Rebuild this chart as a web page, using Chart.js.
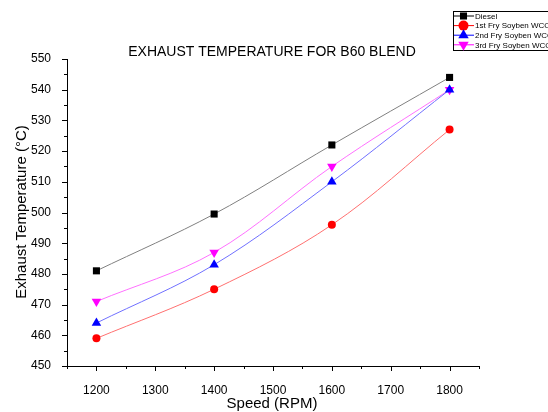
<!DOCTYPE html>
<html><head><meta charset="utf-8">
<script src="https://cdn.jsdelivr.net/npm/chart.js@4/dist/chart.umd.min.js"></script>
<style>html,body{margin:0;padding:0;background:#fff}#wrap{width:548px;height:412px}</style>
</head><body><div id="wrap"><canvas id="c" width="548" height="412"></canvas></div>
<script>
const speeds = [1200, 1400, 1600, 1800];
const diesel = [481, 499.5, 522, 544];
const fry1 = [459, 475, 496, 527];
const fry2 = [464, 483, 510, 540];
const fry3 = [471, 487, 515, 540];
const seriesNames = ['Diesel', '1st Fry Soyben WCO', '2nd Fry Soyben WCO', '3rd Fry Soyben WCO'];
const titleText = 'EXHAUST TEMPERATURE FOR B60 BLEND';
const xTitle = 'Speed (RPM)';
const yTitle = 'Exhaust Temperature (°C)';

const FONT = '"Liberation Sans", Arial, sans-serif';
function mk(name, vals, lineC, ptC, style, rot, r) {
  return {label: name, data: speeds.map((s,i)=>({x:s,y:vals[i]})), borderColor: lineC, borderWidth: 1,
    pointBackgroundColor: ptC, pointBorderColor: ptC, pointStyle: style, pointRotation: rot, pointRadius: r,
    pointBorderWidth: 0, tension: 0.35, fill: false};
}
const datasets = [
  mk(seriesNames[0], diesel, '#808080', '#000000', 'rect', 0, 5),
  mk(seriesNames[1], fry1, '#ff7070', '#ff0000', 'circle', 0, 4),
  mk(seriesNames[2], fry2, '#7070ff', '#0000ff', 'triangle', 0, 5.5),
  mk(seriesNames[3], fry3, '#ff70ff', '#ff00ff', 'triangle', 180, 5.5),
];

const deco = {
  id: 'deco',
  afterDraw(chart) {
    const ctx = chart.ctx, xs = chart.scales.x, ys = chart.scales.y, a = chart.chartArea;
    ctx.save();
    ctx.strokeStyle = '#000'; ctx.lineWidth = 1;
    ctx.beginPath();
    ctx.moveTo(a.left + 0.5, a.top); ctx.lineTo(a.left + 0.5, a.bottom + 0.5); ctx.lineTo(a.right, a.bottom + 0.5);
    xs.ticks.forEach(t => { const px = Math.round(xs.getPixelForValue(t.value)) + 0.5; const L = t.value % 100 === 0 ? 5 : 3; ctx.moveTo(px, a.bottom); ctx.lineTo(px, a.bottom + L); });
    ys.ticks.forEach(t => { const py = Math.round(ys.getPixelForValue(t.value)) + 0.5; const L = t.value % 10 === 0 ? 5 : 3; ctx.moveTo(a.left, py); ctx.lineTo(a.left - L, py); });
    ctx.stroke();
    ctx.fillStyle = '#000';
    ctx.font = '14px ' + FONT; ctx.textAlign = 'center'; ctx.textBaseline = 'middle';
    ctx.fillText(titleText, 272, 52);
    ctx.font = '15px ' + FONT;
    ctx.fillText(xTitle, 272, 404);
    ctx.save(); ctx.translate(22, 212); ctx.rotate(-Math.PI/2); ctx.fillText(yTitle, 0, 0); ctx.restore();
    // legend
    ctx.strokeStyle = '#000'; ctx.lineWidth = 1;
    ctx.strokeRect(453.5, 11.5, 110, 39);
    ctx.font = '8px ' + FONT; ctx.textAlign = 'left';
    const sizes = [5, 5, 6, 6];
    chart.data.datasets.forEach((d, i) => {
      const y = 16 + i * 9.6;
      ctx.strokeStyle = d.pointBackgroundColor; ctx.beginPath(); ctx.moveTo(454, y); ctx.lineTo(474, y); ctx.stroke();
      ctx.fillStyle = d.pointBackgroundColor;
      Chart.helpers.drawPoint(ctx, {pointStyle: d.pointStyle, rotation: d.pointRotation, radius: sizes[i], borderWidth: 0}, 463.5, y);
      ctx.fillStyle = '#000'; ctx.fillText(d.label, 475, y + 0.5);
    });
    ctx.restore();
  }
};

new Chart(document.getElementById('c'), {
  type: 'line',
  data: {datasets},
  options: {
    responsive: false, animation: false, devicePixelRatio: 1,
    layout: {padding: {top: 59, right: 69, left: 0, bottom: 0}},
    plugins: {legend: {display: false}, title: {display: false}, tooltip: {enabled: false}},
    scales: {
      x: {type: 'linear', min: 1150, max: 1850,
        afterFit(s) { s.height = 46; },
        grid: {display: false}, border: {display: false},
        ticks: {stepSize: 50, autoSkip: false, maxRotation: 0, padding: 9, color: '#000', font: {family: FONT, size: 12},
          callback: v => v % 100 === 0 ? String(v) : ''}},
      y: {type: 'linear', min: 450, max: 550,
        afterFit(s) { s.width = 67; },
        grid: {display: false}, border: {display: false},
        ticks: {stepSize: 5, autoSkip: false, padding: 8, color: '#000', font: {family: FONT, size: 12},
          callback: v => v % 10 === 0 ? String(v) : ''}}
    }
  },
  plugins: [deco]
});
</script></body></html>
